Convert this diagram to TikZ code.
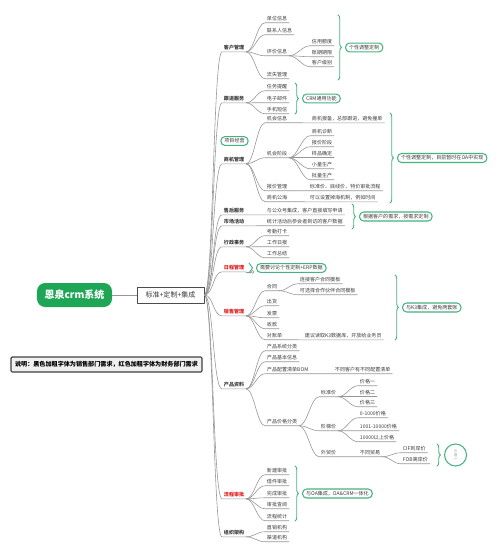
\documentclass[tikz,border=0pt]{standalone}
\usepackage{fontspec}
\setmainfont{Noto Sans CJK SC}
\usetikzlibrary{positioning,decorations.pathreplacing}

\definecolor{rootgreen}{RGB}{30,166,86}
\definecolor{callgreen}{RGB}{70,178,128}
\definecolor{linegray}{RGB}{150,150,150}
\definecolor{txtgray}{RGB}{60,60,60}
\definecolor{finred}{RGB}{225,30,30}

\begin{document}
\begin{tikzpicture}[x=0.03cm,y=-0.03cm,line cap=round,line join=round,
  topic/.style={anchor=west,inner xsep=1.5pt,inner ysep=1pt,text=txtgray,font=\fontsize{4.3}{5}\selectfont},
  maintopic/.style={topic,font=\fontsize{4.3}{5}\selectfont\bfseries},
  redtopic/.style={maintopic,text=finred},
  branch/.style={draw=linegray,line width=0.5pt},
  callout/.style={draw=callgreen,line width=0.9pt,rounded corners=3.5pt,fill=white,text=txtgray,
    inner xsep=3pt,inner ysep=1.8pt,font=\fontsize{4.3}{5}\selectfont},
  brc/.style={draw=callgreen,line width=0.8pt,decorate,decoration={brace,amplitude=3pt}}]
  \useasboundingbox (0,0) rectangle (499,557);

  % root and standard box
  \node[fill=rootgreen,rounded corners=7pt,minimum width=2.25cm,minimum height=0.72cm,text=white,
    font=\fontsize{8.5}{10}\selectfont\bfseries] (root) at (74.5,295) {恩泉crm系统};
  \node[draw=black!70,line width=0.6pt,fill=white,minimum width=2.01cm,minimum height=0.48cm,
    text=txtgray,font=\fontsize{6}{7}\selectfont] (std) at (170.5,295) {标准+定制+集成};
  \draw[branch] (root) -- (std);
  \node[draw=black!75,line width=1pt,fill=black!6,rounded corners=1pt,minimum width=5.73cm,
    minimum height=0.45cm,font=\fontsize{5.2}{6}\selectfont\bfseries] (note) at (106.5,364.5)
    {说明：黑色加粗字体为销售部门需求，红色加粗字体为财务部门需求};

  % main branches
  \node[maintopic] (cust) at (222,48) {客户管理};
  \node[maintopic] (follow) at (222,99) {跟进服务};
  \node[callout] (projtag) at (234.5,141) {项目经营};
  \node[maintopic] (opp) at (222,160) {商机管理};
  \node[maintopic] (after) at (222,211) {售后服务};
  \node[maintopic] (mkt) at (222,222) {市场活动};
  \node[maintopic] (admin) at (222,243) {行政事务};
  \node[redtopic] (sched) at (222,268) {日程管理};
  \node[redtopic] (sales) at (222,312) {销售管理};
  \node[maintopic] (prod) at (222,385) {产品资料};
  \node[redtopic] (flow) at (222,495) {流程审批};
  \node[maintopic] (org) at (222,533) {组织架构};

  % customer
  \node[topic] (unit) at (265,19) {单位信息};
  \node[topic] (contact) at (265,31) {联系人信息};
  \node[topic] (eval) at (265,52) {评价信息};
  \node[topic] (loss) at (265,75) {流失管理};
  \node[topic] (credit) at (310,42) {信用额度};
  \node[topic] (aging) at (310,53) {账期期限};
  \node[topic] (level) at (310,63) {客户级别};
  % follow-up
  \node[topic] (task) at (265,87) {任务提醒};
  \node[topic] (mail) at (265,99) {电子邮件};
  \node[topic] (sms) at (265,110) {手机短信};
  % opportunities
  \node[topic] (info) at (265,119) {机会信息};
  \node[topic] (infoc) at (310,119) {商机报备，总部跟进，避免撞单};
  \node[topic] (stage) at (265,154) {机会阶段};
  \node[topic] (s1) at (310,132) {商机诊断};
  \node[topic] (s2) at (310,143) {报价阶段};
  \node[topic] (s3) at (310,154) {样品确定};
  \node[topic] (s4) at (310,165) {小量生产};
  \node[topic] (s5) at (310,176) {批量生产};
  \node[topic] (quote) at (265,187) {报价管理};
  \node[topic] (quotec) at (308,187) {标准价、底线价、特价审批流程};
  \node[topic] (pool) at (265,198) {商机公海};
  \node[topic] (poolc) at (308,198) {可以设置掉海机制，例如时间};
  % service, marketing, admin
  \node[topic] (afterc) at (265,211) {与公众号集成，客户直接填写申请};
  \node[topic] (mktc) at (265,222) {统计活动后参会者到访的客户数据};
  \node[topic] (att) at (265,232) {考勤打卡};
  \node[topic] (daily) at (265,243) {工作日报};
  \node[topic] (summ) at (265,254) {工作总结};
  % sales
  \node[topic] (contract) at (265,287) {合同};
  \node[topic] (c1) at (298,280) {连接客户合同模板};
  \node[topic] (c2) at (298,291) {可选择合作伙伴合同模板};
  \node[topic] (ship) at (265,302) {出货};
  \node[topic] (inv) at (265,314) {发票};
  \node[topic] (pay) at (265,325) {收款};
  \node[topic] (stmt) at (265,336) {对账单};
  \node[topic] (stmtc) at (303,336) {建议读取K3数据库，开放给业务员};
  % products
  \node[topic] (cat) at (265,347) {产品系统分类};
  \node[topic] (basic) at (265,358) {产品基本信息};
  \node[topic] (bom) at (265,370) {产品配置清单BOM};
  \node[topic] (bomc) at (333,370) {不同客户有不同配置清单};
  \node[topic] (price) at (265,422) {产品价格分类};
  \node[topic] (stdp) at (319,393) {标准价};
  \node[topic] (p1) at (358,382) {价格一};
  \node[topic] (p2) at (358,393) {价格二};
  \node[topic] (p3) at (358,403) {价格三};
  \node[topic] (tier) at (319,427) {阶梯价};
  \node[topic] (t1) at (358,414) {0-1000价格};
  \node[topic] (t2) at (358,427) {1001-10000价格};
  \node[topic] (t3) at (358,438) {10000以上价格};
  \node[topic] (trade) at (319,453) {外贸价};
  \node[topic] (tradec) at (358,453) {不同贸易};
  \node[topic] (cif) at (401,449) {CIF到岸价};
  \node[topic] (fob) at (401,460) {FOB离岸价};
  % approval and organisation
  \node[topic] (fnew) at (265,471) {新建审批};
  \node[topic] (fborrow) at (265,482) {借件审批};
  \node[topic] (fdone) at (265,494) {完成审批};
  \node[topic] (fview) at (265,505) {审批查阅};
  \node[topic] (fstat) at (265,517) {流程统计};
  \node[topic] (direct) at (265,528) {直销机构};
  \node[topic] (channel) at (265,538) {渠道机构};

  % connectors
  \foreach \b in {cust,follow,opp,after,mkt,admin,sched,sales,prod,flow,org}
    \draw[branch] (std.east) .. controls +(9,0) and +(-9,0) .. (\b.south west) -- (\b.south east);
  \foreach \a/\b in {cust/unit,cust/contact,cust/eval,cust/loss,eval/credit,eval/aging,eval/level,
      follow/task,follow/mail,follow/sms,opp/info,opp/stage,opp/quote,opp/pool,info/infoc,
      stage/s1,stage/s2,stage/s3,stage/s4,stage/s5,quote/quotec,pool/poolc,after/afterc,mkt/mktc,
      admin/att,admin/daily,admin/summ,sales/contract,sales/ship,sales/inv,sales/pay,sales/stmt,
      contract/c1,contract/c2,stmt/stmtc,prod/cat,prod/basic,prod/bom,prod/price,bom/bomc,
      price/stdp,price/tier,price/trade,stdp/p1,stdp/p2,stdp/p3,tier/t1,tier/t2,tier/t3,
      trade/tradec,tradec/cif,tradec/fob,flow/fnew,flow/fborrow,flow/fdone,flow/fview,flow/fstat,
      org/direct,org/channel}
    \draw[branch] (\a.south east) .. controls +(8,0) and +(-8,0) .. (\b.south west) -- (\b.south east);
  \draw[branch] (sched.south east) -- ++(5,0) coordinate (schedend);
  \draw[branch,fill=white] (schedend) ++(1.5,0) circle[radius=1.5];

  % braces and callouts
  \coordinate (b1t) at (338,15);  \coordinate (b1b) at (338,80);  \coordinate (b1m) at (338,47.5);
  \coordinate (b2t) at (295,83);  \coordinate (b2b) at (295,114); \coordinate (b2m) at (295,98.5);
  \coordinate (b3t) at (390,113); \coordinate (b3b) at (390,203); \coordinate (b3m) at (390,158);
  \coordinate (b4t) at (352,204); \coordinate (b4b) at (352,229); \coordinate (b4m) at (352,216.5);
  \coordinate (b5t) at (249,263); \coordinate (b5b) at (249,273); \coordinate (b5m) at (249,268);
  \coordinate (b6t) at (395,275); \coordinate (b6b) at (395,340); \coordinate (b6m) at (395,307.5);
  \coordinate (b7t) at (437,444); \coordinate (b7b) at (437,466); \coordinate (b7m) at (437,455);
  \coordinate (b8t) at (295,466); \coordinate (b8b) at (295,521); \coordinate (b8m) at (295,493.5);
  \foreach \k in {1,...,8}
    \draw[brc] (b\k t) -- (b\k b);
  \node[callout,anchor=west,right=6pt of b1m] (tag1) {个性调整定制};
  \node[callout,anchor=west,right=6pt of b2m] (tag2) {CRM通用功能};
  \node[callout,anchor=west,right=6pt of b3m] (tag3) {个性调整定制，目前暂时在OA中实现};
  \node[callout,anchor=west,right=6pt of b4m] (tag4) {根据客户的需求，按需求定制};
  \node[callout,anchor=west,right=6pt of b5m] (tag5) {需要讨论个性定制+ERP数据};
  \node[callout,anchor=west,right=6pt of b6m] (tag6) {与K3集成，避免两套账};
  \node[callout,circle,minimum size=0.66cm,inner sep=0pt,align=center,text=txtgray!60,
    font=\fontsize{3}{3.6}\selectfont,right=6pt of b7m] (tag7) {三\\选\\一};
  \node[callout,anchor=west,right=6pt of b8m] (tag8) {与OA集成，OA\&CRM一体化};
\end{tikzpicture}
\end{document}
